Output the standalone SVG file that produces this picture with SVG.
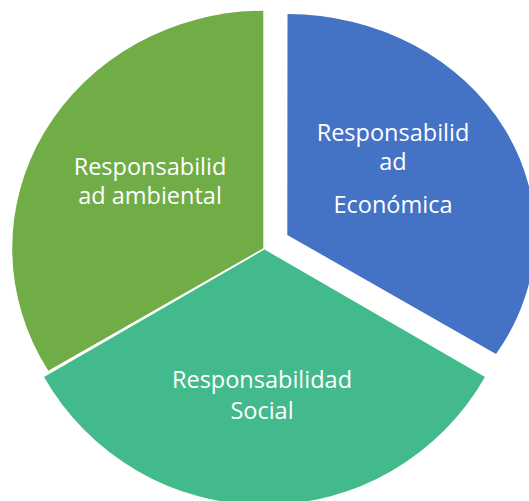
<svg xmlns="http://www.w3.org/2000/svg" width="529" height="501" viewBox="0 0 529 501">
<style>
  .lbl { font-family: "Open Sans", "Noto Sans", "Liberation Sans", sans-serif; font-size: 23.5px; fill: #ffffff; text-anchor: middle; }
</style>
<rect width="529" height="501" fill="#ffffff"/>
<g id="ambiental">
  <path d="M263.3,248.3 L263.3,10.7 A252.3,237.6 0 0,0 48.3,370.7 Z" fill="#70AD47"/>
  <text class="lbl" x="150" y="175">Responsabilid</text>
  <text class="lbl" x="150" y="204">ad ambiental</text>
</g>
<g id="economica">
  <path d="M287.3,235 L287.5,14 A248,221 0 0,1 496,354 Z" fill="#4472C4"/>
  <text class="lbl" x="393" y="141">Responsabilid</text>
  <text class="lbl" x="393" y="170">ad</text>
  <text class="lbl" x="393" y="213">Económica</text>
</g>
<g id="social">
  <path d="M264.5,249.5 L485,377 A254,254 0 0,1 44,377 Z" fill="#43BA8C"/>
  <text class="lbl" x="262" y="388">Responsabilidad</text>
  <text class="lbl" x="262" y="419">Social</text>
</g>
<g id="connectors"></g>
</svg>
